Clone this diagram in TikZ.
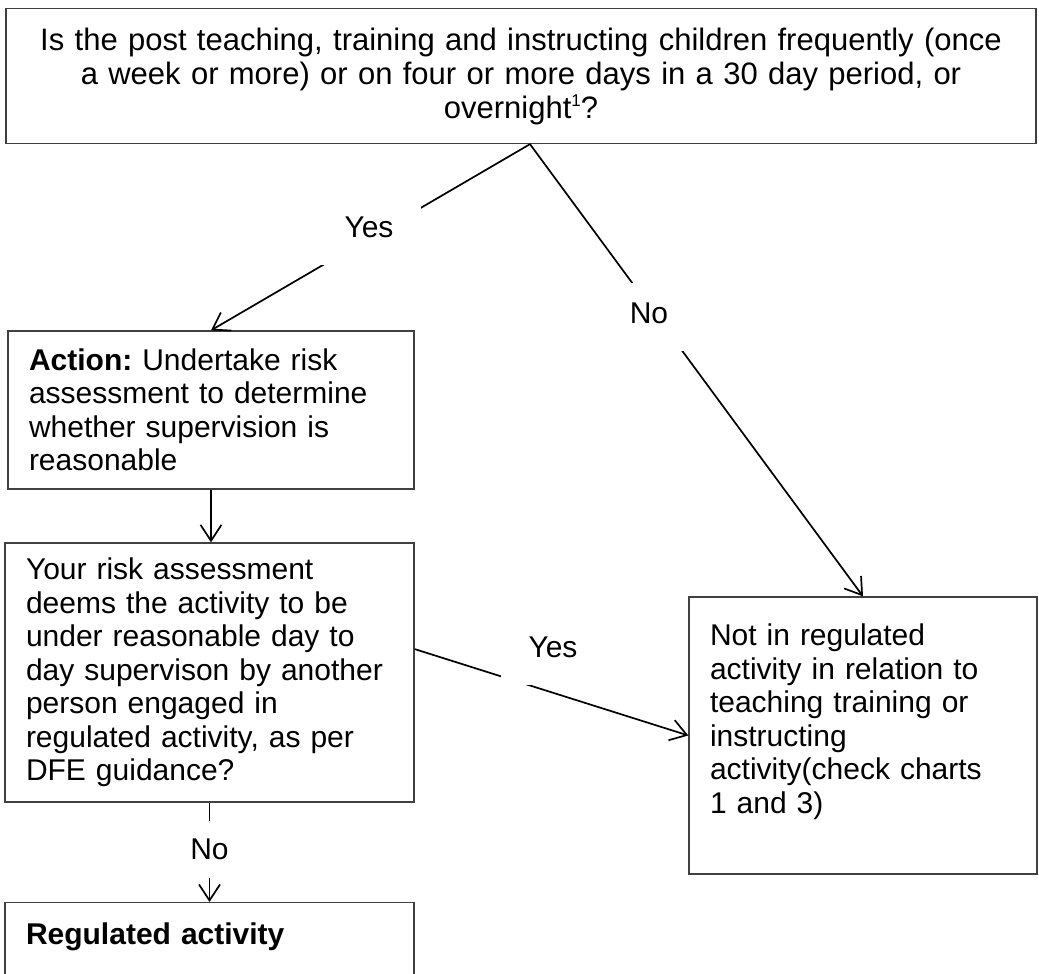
\documentclass[tikz,border=0pt]{standalone}
\usepackage{fontspec}
\setmainfont{Liberation Sans}
\usetikzlibrary{arrows.meta,calc}

\begin{document}
\begin{tikzpicture}[
    x=1pt, y=-1pt,
    font=\fontsize{30}{33.5}\selectfont\frenchspacing,
    casella/.style={draw=black!75, line width=1.3pt, inner xsep=21pt, inner ysep=0pt, align=left},
    freccia/.style={line width=1.7pt, -{Straight Barb[length=16pt,width=21pt]}},
    etichetta/.style={fill=white, inner sep=0pt, minimum width=104pt, minimum height=68pt, text depth=8pt},
  ]
  \useasboundingbox (0,0) rectangle (1039,974);

  % --- la domanda iniziale ---------------------------------------------
  \node[casella, align=center, inner xsep=10pt, text width=1010pt, minimum height=135pt,
        font=\fontsize{31}{34}\selectfont\frenchspacing]
    (domanda) at (521,76) {Is the post teaching, training and instructing children frequently (once\\
    a week or more) or on four or more days in a 30 day period, or\\
    overnight\raisebox{11.5pt}[0pt][0pt]{\fontsize{17}{17}\selectfont 1}?};

  % --- le caselle ------------------------------------------------------
  \node[casella, text width=364pt, minimum height=158pt] (azione) at (211,410)
    {\textbf{Action:} Undertake risk\\assessment to determine\\whether supervision is\\reasonable};
  \node[casella, text width=367pt, minimum height=259pt] (verifica) at (209.5,672.5)
    {Your risk assessment\\deems the activity to be\\under reasonable day to\\day supervison by another\\person engaged in\\regulated activity, as per\\DFE guidance?};
  \node[casella, text width=306pt, minimum height=277pt] (fuori) at (863,735.5)
    {Not in regulated\\activity in relation to\\teaching training or\\instructing\\activity(check charts\\1 and 3)\\\mbox{}};
  \node[casella, anchor=north, text width=367pt, minimum height=95pt] (regolata) at (209.5,902)
    {\textbf{Regulated activity}\\\mbox{}};

  % --- le frecce -------------------------------------------------------
  \draw[freccia] ($(domanda.south)+(9,0)$) -- (azione.north);
  \draw[freccia] ($(domanda.south)+(9,0)$) -- (fuori.north);
  \draw[freccia] (azione.south) -- (azione.south |- verifica.north);
  \draw[freccia] ($(verifica.north east)!0.41!(verifica.south east)$) -- (fuori.west);
  \draw[freccia] (verifica.south) -- (regolata.north);

  % --- le etichette sopra le frecce ------------------------------------
  \node[etichetta] (si1) at (369,231) {Yes};
  \node[etichetta] (no1) at (649,317) {No};
  \node[etichetta] (si2) at (553,651) {Yes};
  \node[etichetta, text depth=0pt, minimum height=57pt] (no2) at (209.5,849) {No};

\end{tikzpicture}
\end{document}
